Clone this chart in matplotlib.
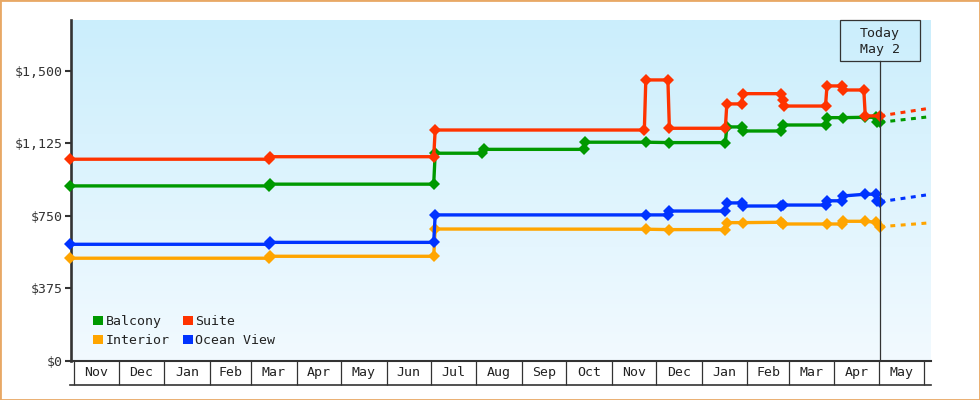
import numpy as np
import pandas as pd
import matplotlib
matplotlib.use('Agg')
import matplotlib.pyplot as plt
import matplotlib.dates as mdates
import matplotlib.transforms as mtransforms
from matplotlib.patches import Rectangle, Patch

plt.rcParams['font.family'] = ['DejaVu Sans Mono']

# observed fares per cabin (date, price)
suite_dates = ['2021-10-29', '2022-03-13', '2022-03-14', '2022-07-03', '2022-07-04',
               '2022-11-23', '2022-11-24', '2022-12-09', '2022-12-10', '2023-01-17',
               '2023-01-18', '2023-01-28', '2023-01-29', '2023-02-24', '2023-02-25',
               '2023-02-26', '2023-03-26', '2023-03-27', '2023-04-06', '2023-04-07',
               '2023-04-21', '2023-04-22', '2023-05-02']
suite_prices = [1042, 1042, 1055, 1055, 1193,
                1193, 1452, 1452, 1202, 1202,
                1328, 1328, 1381, 1381, 1350,
                1317, 1317, 1421, 1421, 1400,
                1400, 1266, 1266]

balcony_dates = ['2021-10-29', '2022-03-13', '2022-03-14', '2022-07-03', '2022-07-04',
                 '2022-08-05', '2022-08-06', '2022-10-13', '2022-10-14', '2022-11-24',
                 '2022-12-10', '2023-01-17', '2023-01-18', '2023-01-28', '2023-01-29',
                 '2023-02-24', '2023-02-25', '2023-03-26', '2023-03-27', '2023-04-07',
                 '2023-04-22', '2023-04-29', '2023-04-30', '2023-05-02']
balcony_prices = [904, 904, 913, 913, 1073,
                  1073, 1093, 1093, 1130, 1130,
                  1128, 1128, 1209, 1209, 1188,
                  1188, 1219, 1219, 1257, 1257,
                  1259, 1259, 1236, 1233]

ocean_dates = ['2021-10-29', '2022-03-13', '2022-03-14', '2022-07-03', '2022-07-04',
               '2022-11-24', '2022-12-09', '2022-12-10', '2023-01-17', '2023-01-18',
               '2023-01-28', '2023-01-29', '2023-02-24', '2023-02-25', '2023-03-26',
               '2023-03-27', '2023-04-06', '2023-04-07', '2023-04-22', '2023-04-29',
               '2023-04-30', '2023-05-02']
ocean_prices = [602, 602, 612, 612, 754,
                754, 754, 774, 774, 816,
                816, 800, 800, 805, 805,
                827, 827, 852, 861, 861,
                826, 822]

interior_dates = ['2021-10-29', '2022-03-13', '2022-03-14', '2022-07-03', '2022-07-04',
                  '2022-11-24', '2022-12-10', '2023-01-17', '2023-01-18', '2023-01-29',
                  '2023-02-24', '2023-02-25', '2023-03-27', '2023-04-06', '2023-04-07',
                  '2023-04-22', '2023-04-29', '2023-05-02']
interior_prices = [530, 530, 540, 540, 681,
                   680, 678, 678, 714, 714,
                   716, 707, 707, 707, 721,
                   721, 716, 693]

# forecast from today to end of axis
forecast_dates = ['2023-05-02', '2023-06-05']
suite_forecast = [1266, 1306]
balcony_forecast = [1233, 1262]
ocean_forecast = [822, 860]
interior_forecast = [693, 713]

series = [
    ('Balcony', '#009900', balcony_dates, balcony_prices, balcony_forecast),
    ('Interior', '#FFA500', interior_dates, interior_prices, interior_forecast),
    ('Suite', '#FF3300', suite_dates, suite_prices, suite_forecast),
    ('Ocean View', '#0033FF', ocean_dates, ocean_prices, ocean_forecast),
]

y_ticks = [0, 375, 750, 1125, 1500]
y_labels = ['$0', '$375', '$750', '$1,125', '$1,500']
today = '2023-05-02'
today_label = 'Today\nMay 2'

ink = '#333333'

fig = plt.figure(figsize=(9.8, 4.0), dpi=100)
pos = [71 / 980, 1 - 360.7 / 400, (930.7 - 71) / 980, (360.7 - 20) / 400]

# gradient background
bg = fig.add_axes(pos, zorder=0)
top = np.array([203, 238, 252]) / 255
bot = np.array([242, 250, 255]) / 255
t = np.linspace(0, 1, 256)[:, None, None]
grad = top * (1 - t) + bot * t
bg.imshow(grad, aspect='auto', extent=[0, 1, 0, 1])
bg.axis('off')

ax = fig.add_axes(pos, zorder=1)
ax.patch.set_visible(False)

for name, c, d, p, fc in series:
    ax.plot(np.array(d, dtype='datetime64[D]'), p, color=c, lw=2.4,
            marker='D', ms=5.8, mew=0, clip_on=False, zorder=3)
    ax.plot(np.array(forecast_dates, dtype='datetime64[D]'), fc, color=c, lw=2.2,
            dashes=(1.6, 1.8), clip_on=False, zorder=2)

ax.set_ylim(0, 1762)
ax.set_xlim(pd.Timestamp('2021-10-29 18:00'), pd.Timestamp('2023-06-05 10:00'))
ax.set_yticks(y_ticks)
ax.set_yticklabels(y_labels)
ax.tick_params(axis='y', length=4.3, width=1.5, color=ink, labelsize=9.5,
               labelcolor=ink, pad=2)
ax.tick_params(axis='x', length=0, labelbottom=False)
for s in ['top', 'right']:
    ax.spines[s].set_visible(False)
ax.spines['left'].set_linewidth(1.9)
ax.spines['left'].set_color(ink)
ax.spines['bottom'].set_linewidth(1.5)
ax.spines['bottom'].set_color(ink)

# month boxes under the axis
blend = mtransforms.blended_transform_factory(ax.transData, ax.transAxes)
starts = pd.date_range('2021-11-01', '2023-06-01', freq='MS')
box_bottom = -0.0713
ax.vlines(starts, box_bottom, 0, transform=blend, color=ink, lw=0.9, clip_on=False)
ax.plot([-0.0015, 1.0], [box_bottom, box_bottom], transform=ax.transAxes,
        color=ink, lw=1.2, clip_on=False)
for a, b in zip(starts[:-1], starts[1:]):
    mid = a + (b - a) / 2
    ax.text(mid, box_bottom / 2, a.strftime('%b'), transform=blend, ha='center',
            va='center', fontsize=9.5, color='#222222')

# today marker
tnum = mdates.date2num(pd.Timestamp(today))
box_y0 = (360.7 - 60.7) / 340.7
ax.plot([tnum, tnum], [0, box_y0], transform=blend, color=ink, lw=0.9, zorder=4)
ax.add_patch(Rectangle((tnum - 27.2, box_y0), 54.4, 1 - box_y0, transform=blend,
                       fill=False, ec=ink, lw=0.9, clip_on=False, zorder=4))
ax.text(tnum, (360.7 - 41.7) / 340.7, today_label, transform=blend, ha='center',
        va='center', fontsize=9.5, color='#222222', linespacing=1.3)

handles = [Patch(facecolor=c, edgecolor='none', label=n) for n, c, *_ in series]
ax.legend(handles=handles, ncol=2, loc='lower left', bbox_to_anchor=(0.0256, 0.04),
          frameon=False, fontsize=9.5, handlelength=0.75, handleheight=0.75,
          handletextpad=0.2, columnspacing=1.0, labelspacing=0.45, borderpad=0,
          borderaxespad=0, labelcolor='#222222')

fig.add_artist(Rectangle((0, 0), 1, 1, transform=fig.transFigure, fill=False,
                         ec='#E8A865', lw=2.0))

fig.savefig('out.png', dpi=100)
